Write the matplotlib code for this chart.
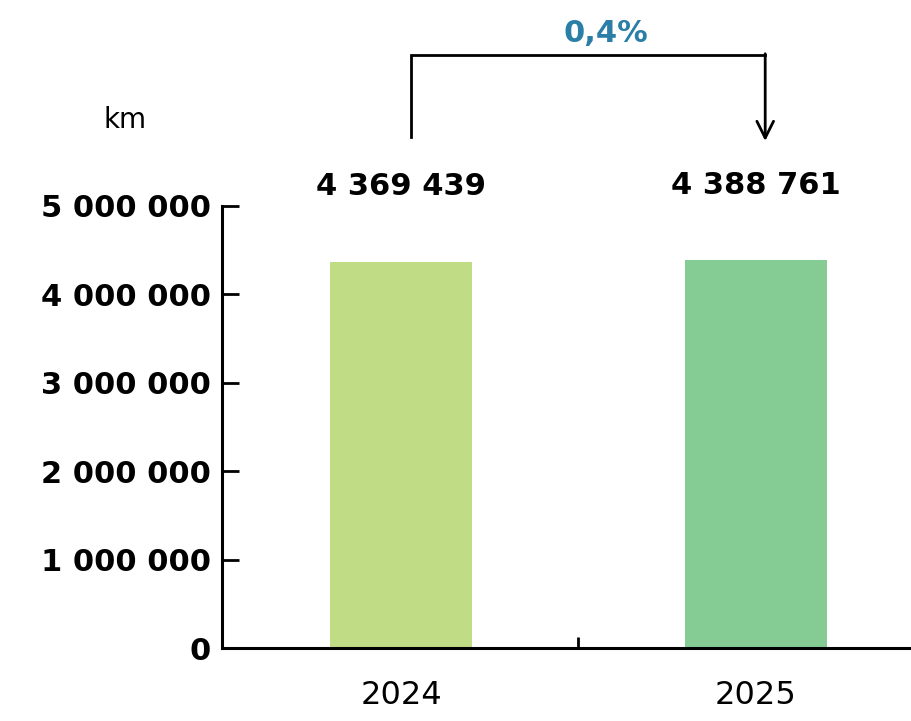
import matplotlib
matplotlib.use("Agg")
import matplotlib.pyplot as plt

# Distance travelled per year
years = ["2024", "2025"]
distance_km = [4369439, 4388761]
bar_colors = ["#C0DC84", "#84CC94"]
y_ticks = [0, 1000000, 2000000, 3000000, 4000000, 5000000]


def fmt_space(v):
    return f"{v:,.0f}".replace(",", " ")


fig = plt.figure(figsize=(9.12, 7.21), dpi=100)
ax = fig.add_axes([0.2434, 0.1012, 0.7566, 0.6131])

x = list(range(len(years)))
ax.bar(x, distance_km, width=0.40, color=bar_colors, zorder=2)

ax.set_xlim(-0.505, 1.441)
ax.set_ylim(0, 5000000)

# axes styling
for side in ["top", "right"]:
    ax.spines[side].set_visible(False)
for side in ["left", "bottom"]:
    ax.spines[side].set_linewidth(2.2)
    ax.spines[side].set_color("black")

ax.set_yticks(y_ticks)
ax.set_yticklabels([fmt_space(v) for v in y_ticks], fontsize=22, fontweight="bold")
ax.tick_params(axis="y", direction="in", length=12.5, width=2.0, pad=8)

ax.set_xticks(x)
ax.set_xticklabels(years, fontsize=23)
ax.tick_params(axis="x", length=0, pad=23)
ax.set_xticks([0.5], minor=True)
ax.tick_params(axis="x", which="minor", direction="in", length=8, width=2.0)

# value labels above the bars
for xi, v in zip(x, distance_km):
    ax.annotate(fmt_space(v), xy=(xi, v), xytext=(0, 54), textcoords="offset points",
                ha="center", va="center", fontsize=22, fontweight="bold")

# unit label
fig.text(125 / 912, 1 - 120 / 721, "km", fontsize=20, ha="center", va="center")

# bracket showing the year-over-year change
change = (distance_km[1] - distance_km[0]) / distance_km[0] * 100
x_left, x_right = 0.028, 1.027
y_start, y_top, y_tip = 5780000, 6710000, 5735000
ax.plot([x_left, x_left, x_right], [y_start, y_top, y_top], color="black",
        lw=2.0, clip_on=False, solid_joinstyle="miter")
ax.annotate("", xy=(x_right, y_tip), xytext=(x_right, y_top + 12000),
            arrowprops=dict(arrowstyle="->", color="black", lw=2.0,
                            mutation_scale=30, shrinkA=0, shrinkB=0),
            annotation_clip=False)
ax.text(0.578, 6950000, f"{change:.1f}%".replace(".", ","),
        ha="center", va="center", fontsize=22, fontweight="bold", color="#2B7FA6",
        clip_on=False)

fig.savefig("out.png", dpi=100)
